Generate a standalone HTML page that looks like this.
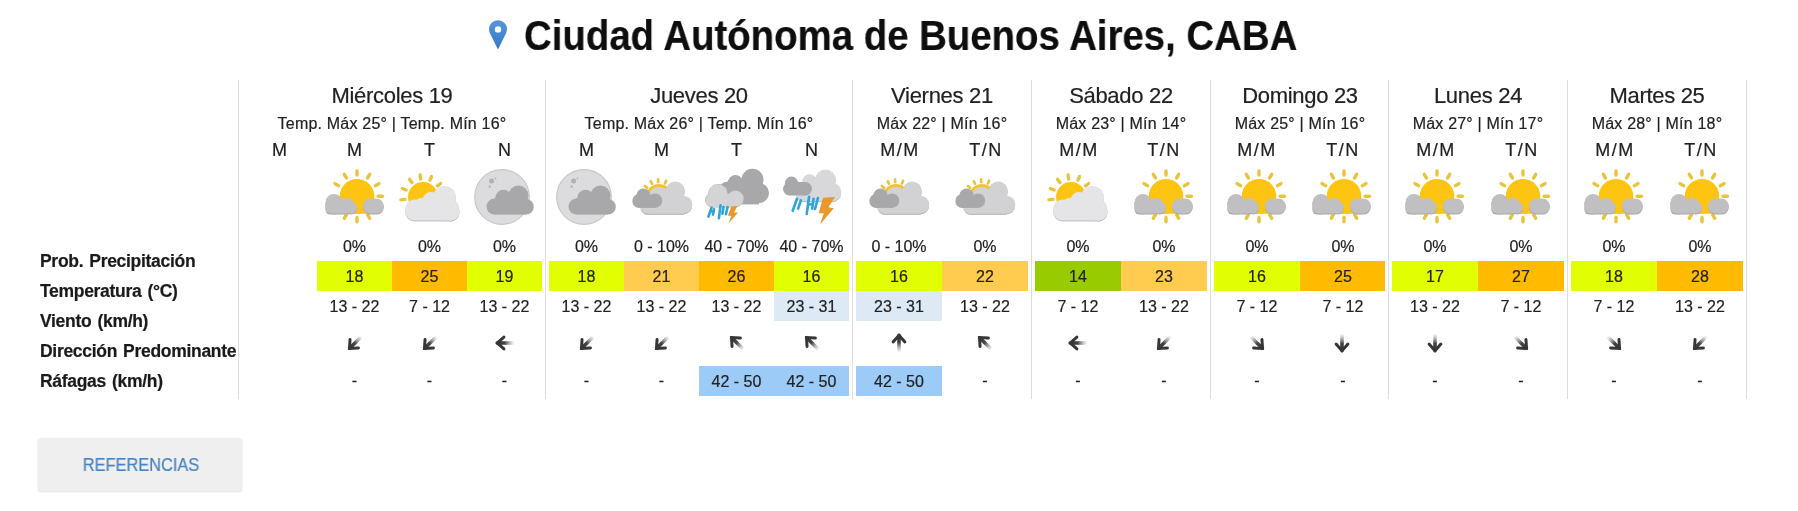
<!DOCTYPE html>
<html><head><meta charset="utf-8"><style>
html,body{margin:0;padding:0;background:#fff;}
body{width:1798px;height:511px;position:relative;overflow:hidden;font-family:"Liberation Sans", sans-serif;}
.t{position:absolute;white-space:nowrap;-webkit-font-smoothing:antialiased;will-change:transform;-webkit-text-stroke:0.2px currentColor;}
.r{position:absolute;}
</style></head><body>
<svg width="0" height="0" style="position:absolute"><defs>
<linearGradient id="ag" x1="0" y1="0" x2="0" y2="1" gradientUnits="objectBoundingBox">
<stop offset="0" stop-color="#333"/><stop offset="0.45" stop-color="#3a3a3a" stop-opacity="0.95"/><stop offset="1" stop-color="#888" stop-opacity="0"/>
</linearGradient>
<symbol id="arr" viewBox="0 0 24 24" overflow="visible">
<rect x="10.2" y="3.5" width="3.6" height="18" fill="url(#ag)"/>
<path d="M6.1 10.9 L12 4.2 L17.9 10.9" stroke="#363636" stroke-width="3" fill="none" stroke-linecap="round" stroke-linejoin="miter"/>
</symbol>
<symbol id="icA" viewBox="0 0 60 60" overflow="visible">
<g stroke="#e8c43e" stroke-width="3.4" stroke-linecap="round"><path d="M53.20 29.30L57.40 29.30"/><path d="M50.36 18.70L54.00 16.60"/><path d="M42.60 10.94L44.70 7.30"/><path d="M32.00 8.10L32.00 3.90"/><path d="M21.40 10.94L19.30 7.30"/><path d="M13.64 18.70L10.00 16.60"/><path d="M21.40 47.66L19.30 51.30"/><path d="M32.00 50.50L32.00 54.70"/><path d="M42.60 47.66L44.70 51.30"/></g>
<circle cx="32" cy="29.3" r="17.3" fill="#fdc512"/>
<rect x="28" y="30" width="13" height="16.8" fill="#fdc512"/>
<g fill="#a7a7a9" transform="translate(0 1.1)"><rect x="0.5" y="27" width="17" height="19.5" rx="8.5"/><rect x="0.5" y="35" width="26" height="11.5" rx="5"/><circle cx="22" cy="38.5" r="7.5"/><circle cx="26" cy="40.5" r="6"/><rect x="38" y="31.5" width="20.8" height="15" rx="7.5"/></g>
<g fill="#c0c0c2"><rect x="0.5" y="27" width="17" height="19.5" rx="8.5"/><rect x="0.5" y="35" width="26" height="11.5" rx="5"/><circle cx="22" cy="38.5" r="7.5"/><circle cx="26" cy="40.5" r="6"/><rect x="38" y="31.5" width="20.8" height="15" rx="7.5"/></g>
</symbol>
<symbol id="icB" viewBox="0 0 60 60" overflow="visible">
<g stroke="#e8c43e" stroke-width="3.4" stroke-linecap="round"><path d="M37.44 18.92L40.61 16.49"/><path d="M29.96 13.19L31.50 9.49"/><path d="M20.62 11.96L20.10 7.99"/><path d="M11.92 15.56L9.49 12.39"/><path d="M6.19 23.04L2.49 21.50"/><path d="M4.96 32.38L0.99 32.90"/></g>
<circle cx="23" cy="30" r="15" fill="#fdc512"/>
<g fill="#c6c6c8" transform="translate(0 1.2)"><rect x="5.3" y="32.5" width="54" height="20.8" rx="9"/><circle cx="44.5" cy="30.5" r="11.5"/><circle cx="50.5" cy="44.5" r="9"/><circle cx="31" cy="33.5" r="8.5"/><circle cx="21.5" cy="37" r="6"/></g>
<g fill="#e5e5e7"><rect x="5.3" y="32.5" width="54" height="20.8" rx="9"/><circle cx="44.5" cy="30.5" r="11.5"/><circle cx="50.5" cy="44.5" r="9"/><circle cx="31" cy="33.5" r="8.5"/><circle cx="21.5" cy="37" r="6"/></g>
</symbol>
<symbol id="icC" viewBox="0 0 60 60" overflow="visible">
<circle cx="27" cy="30" r="27.3" fill="#dcdcde" stroke="#c8c8ca" stroke-width="1.2"/>
<circle cx="16.6" cy="14" r="2.5" fill="#b0b0b2"/><circle cx="14.7" cy="19.6" r="1.2" fill="#b0b0b2"/><circle cx="20.5" cy="11.4" r="0.9" fill="#b0b0b2"/>
<g fill="#a8a8aa"><circle cx="43.4" cy="28.5" r="10"/><circle cx="28.5" cy="31" r="8.2"/><circle cx="19.5" cy="39.6" r="8"/><circle cx="51" cy="39.8" r="7.8"/><rect x="19.5" y="31" width="31.5" height="16.6"/></g>
</symbol>
<symbol id="icD" viewBox="0 0 60 60" overflow="visible">
<g stroke="#e8c43e" stroke-width="2.7" stroke-linecap="round"><path d="M15.11 20.87L12.86 19.05"/><path d="M20.05 16.87L18.74 14.28"/><path d="M26.20 15.22L26.05 12.32"/><path d="M32.98 16.42L34.11 13.75"/></g>
<circle cx="27" cy="30.5" r="13.6" fill="#f2c530"/>
<g fill="#b9b9bb" transform="translate(0 1.2)"><circle cx="43.2" cy="24" r="9.6"/><circle cx="51.5" cy="37.5" r="8.7"/><circle cx="27" cy="31" r="11"/><circle cx="16" cy="39" r="7.7"/><rect x="16" y="30" width="35.5" height="16.7"/></g>
<g fill="#d2d2d4"><circle cx="43.2" cy="24" r="9.6"/><circle cx="51.5" cy="37.5" r="8.7"/><circle cx="27" cy="31" r="11"/><circle cx="16" cy="39" r="7.7"/><rect x="16" y="30" width="35.5" height="16.7"/></g>
<g fill="#a8a8aa"><circle cx="11.5" cy="28.5" r="7"/><circle cx="23" cy="33.7" r="7.2"/><circle cx="7.2" cy="34" r="6.9"/><rect x="7.2" y="28.5" width="15.8" height="12.4"/></g>
</symbol>
<symbol id="icE" viewBox="0 0 60 60" overflow="visible">
<g fill="#a8a8aa"><circle cx="45.5" cy="12.8" r="11"/><circle cx="28.5" cy="15.5" r="7.5"/><circle cx="52" cy="26" r="10"/><circle cx="21" cy="24.5" r="10"/><rect x="21" y="13" width="31" height="24.4"/></g>
<g fill="#d4d4d6" stroke="#b5b5b7" stroke-width="1"><circle cx="11" cy="27" r="9.5"/><circle cx="28.5" cy="31.7" r="8"/><circle cx="5.5" cy="33" r="7"/><rect x="5.5" y="27" width="23" height="13"/></g>
<g fill="#d4d4d6"><circle cx="11" cy="27" r="9.5"/><circle cx="28.5" cy="31.7" r="8"/><circle cx="5.5" cy="33" r="7"/><rect x="5.5" y="27" width="23" height="13"/></g>
<g stroke="#2ea4d8" stroke-width="2.6" stroke-linecap="round"><path d="M1.4 49.6L4.6 40.6"/><path d="M6 47.6L7 42.4"/><path d="M11.9 51.3L13.5 38.3"/><path d="M15.4 46.7L16.5 40"/><path d="M18.9 47.2L20.6 40"/><path d="M4.2 44.6L6.2 44.2"/></g>
<polygon points="24.3,39.5 30.5,38.8 27,45.6 31.1,45.6 21.5,56.6 24.3,49 20.9,48.4" fill="#e9982b"/>
</symbol>
<symbol id="icF" viewBox="0 0 60 60" overflow="visible">
<g fill="#bdbdbf" transform="translate(0 1)"><circle cx="43.5" cy="12.8" r="10.3"/><circle cx="27.5" cy="14.5" r="7.2"/><circle cx="50" cy="25" r="9.2"/><circle cx="22" cy="26" r="8"/><rect x="22" y="13" width="28" height="21.2"/></g>
<g fill="#d8d8da"><circle cx="43.5" cy="12.8" r="10.3"/><circle cx="27.5" cy="14.5" r="7.2"/><circle cx="50" cy="25" r="9.2"/><circle cx="22" cy="26" r="8"/><rect x="22" y="13" width="28" height="21.2"/></g>
<g fill="#a8a8aa"><circle cx="9.5" cy="16" r="6.5"/><circle cx="23.3" cy="21.8" r="6.7"/><circle cx="7.5" cy="22" r="6.5"/><rect x="7.5" y="15" width="16" height="13.5"/></g>
<g stroke="#2ea4d8" stroke-width="2.6" stroke-linecap="round"><path d="M10.7 43.8L15 31.8"/><path d="M16.1 41.6L18.9 33.4"/><path d="M24.7 47L27.1 29.7"/><path d="M30.2 41.6L31.6 31.8"/><path d="M33 42L35.9 31"/><path d="M27.5 37.5L30.6 37"/></g>
<polygon points="41.1,30.8 53,30 46.4,40.2 51.8,41.2 38,57.6 41.8,46.3 36.6,46.3" fill="#e9982b"/>
</symbol>
</defs></svg>
<svg class="pin" style="position:absolute;left:487px;top:19px" width="22" height="32" viewBox="0 0 22 32"><defs><linearGradient id="pg" x1="0" y1="0" x2="0" y2="1"><stop offset="0" stop-color="#5597dc"/><stop offset="1" stop-color="#3479c4"/></linearGradient></defs><path d="M11 30.4L2.96 14.35A9 9 0 1 1 19.04 14.35Z" fill="url(#pg)"/><circle cx="11" cy="10.4" r="3.2" fill="#fff"/></svg>
<div class="t" style="left:524.00px;top:7.55px;width:900px;font-size:42.5px;line-height:55.25px;font-weight:700;color:#0e0e0e;text-align:left;letter-spacing:0px;transform:scaleX(0.903);transform-origin:0 0">Ciudad Autónoma de Buenos Aires, CABA</div>
<div class="t" style="left:40.00px;top:249.56px;width:240px;font-size:17.5px;line-height:22.75px;font-weight:700;color:#1a1a1a;text-align:left;letter-spacing:-0.3px;word-spacing:1.5px">Prob. Precipitación</div>
<div class="t" style="left:40.00px;top:279.56px;width:240px;font-size:17.5px;line-height:22.75px;font-weight:700;color:#1a1a1a;text-align:left;letter-spacing:-0.3px;word-spacing:1.5px">Temperatura (°C)</div>
<div class="t" style="left:40.00px;top:309.56px;width:240px;font-size:17.5px;line-height:22.75px;font-weight:700;color:#1a1a1a;text-align:left;letter-spacing:-0.3px;word-spacing:1.5px">Viento (km/h)</div>
<div class="t" style="left:40.00px;top:339.56px;width:240px;font-size:17.5px;line-height:22.75px;font-weight:700;color:#1a1a1a;text-align:left;letter-spacing:-0.3px;word-spacing:1.5px">Dirección Predominante</div>
<div class="t" style="left:40.00px;top:369.56px;width:240px;font-size:17.5px;line-height:22.75px;font-weight:700;color:#1a1a1a;text-align:left;letter-spacing:-0.3px;word-spacing:1.5px">Ráfagas (km/h)</div>
<div class="r" style="left:238.00px;top:80.00px;width:1.00px;height:319.00px;background:#dedede;"></div>
<div class="r" style="left:545.00px;top:80.00px;width:1.00px;height:319.00px;background:#dedede;"></div>
<div class="r" style="left:852.00px;top:80.00px;width:1.00px;height:319.00px;background:#dedede;"></div>
<div class="r" style="left:1030.80px;top:80.00px;width:1.00px;height:319.00px;background:#dedede;"></div>
<div class="r" style="left:1209.60px;top:80.00px;width:1.00px;height:319.00px;background:#dedede;"></div>
<div class="r" style="left:1388.40px;top:80.00px;width:1.00px;height:319.00px;background:#dedede;"></div>
<div class="r" style="left:1567.20px;top:80.00px;width:1.00px;height:319.00px;background:#dedede;"></div>
<div class="r" style="left:1746.00px;top:80.00px;width:1.00px;height:319.00px;background:#dedede;"></div>
<div class="t" style="left:242.00px;top:82.08px;width:300px;font-size:22px;line-height:28.6px;font-weight:400;color:#212121;text-align:center;letter-spacing:-0.3px;">Miércoles 19</div>
<div class="t" style="left:242.00px;top:114.06px;width:300px;font-size:16px;line-height:20.8px;font-weight:400;color:#212121;text-align:center;letter-spacing:0.2px;">Temp. Máx 25° | Temp. Mín 16°</div>
<div class="t" style="left:232.00px;top:139.06px;width:95.0px;font-size:18px;line-height:23.4px;font-weight:400;color:#212121;text-align:center;letter-spacing:0px;">M</div>
<div class="t" style="left:307.00px;top:139.06px;width:95.0px;font-size:18px;line-height:23.4px;font-weight:400;color:#212121;text-align:center;letter-spacing:0px;">M</div>
<svg style="position:absolute;left:324.50px;top:167px;overflow:visible" width="60" height="60"><use href="#icA"/></svg>
<div class="t" style="left:307.00px;top:237.06px;width:95.0px;font-size:16px;line-height:20.8px;font-weight:400;color:#212121;text-align:center;letter-spacing:0px;">0%</div>
<div class="r" style="left:317.00px;top:261.00px;width:75.00px;height:30.00px;background:#e1ff00;"></div>
<div class="t" style="left:317.00px;top:267.06px;width:75.0px;font-size:16px;line-height:20.8px;font-weight:400;color:#212121;text-align:center;letter-spacing:0px;">18</div>
<div class="t" style="left:317.00px;top:297.06px;width:75.0px;font-size:16px;line-height:20.8px;font-weight:400;color:#212121;text-align:center;letter-spacing:0px;">13 - 22</div>
<svg style="position:absolute;left:342.50px;top:330.5px" width="24" height="24"><use href="#arr" transform="rotate(-135 12 12)"/></svg>
<div class="t" style="left:317.00px;top:371.06px;width:75.0px;font-size:16px;line-height:20.8px;font-weight:400;color:#212121;text-align:center;letter-spacing:0px;">-</div>
<div class="t" style="left:382.00px;top:139.06px;width:95.0px;font-size:18px;line-height:23.4px;font-weight:400;color:#212121;text-align:center;letter-spacing:0px;">T</div>
<svg style="position:absolute;left:399.50px;top:167px;overflow:visible" width="60" height="60"><use href="#icB"/></svg>
<div class="t" style="left:382.00px;top:237.06px;width:95.0px;font-size:16px;line-height:20.8px;font-weight:400;color:#212121;text-align:center;letter-spacing:0px;">0%</div>
<div class="r" style="left:392.00px;top:261.00px;width:75.00px;height:30.00px;background:#ffbb00;"></div>
<div class="t" style="left:392.00px;top:267.06px;width:75.0px;font-size:16px;line-height:20.8px;font-weight:400;color:#212121;text-align:center;letter-spacing:0px;">25</div>
<div class="t" style="left:392.00px;top:297.06px;width:75.0px;font-size:16px;line-height:20.8px;font-weight:400;color:#212121;text-align:center;letter-spacing:0px;">7 - 12</div>
<svg style="position:absolute;left:417.50px;top:330.5px" width="24" height="24"><use href="#arr" transform="rotate(-135 12 12)"/></svg>
<div class="t" style="left:392.00px;top:371.06px;width:75.0px;font-size:16px;line-height:20.8px;font-weight:400;color:#212121;text-align:center;letter-spacing:0px;">-</div>
<div class="t" style="left:457.00px;top:139.06px;width:95.0px;font-size:18px;line-height:23.4px;font-weight:400;color:#212121;text-align:center;letter-spacing:0px;">N</div>
<svg style="position:absolute;left:474.50px;top:167px;overflow:visible" width="60" height="60"><use href="#icC"/></svg>
<div class="t" style="left:457.00px;top:237.06px;width:95.0px;font-size:16px;line-height:20.8px;font-weight:400;color:#212121;text-align:center;letter-spacing:0px;">0%</div>
<div class="r" style="left:467.00px;top:261.00px;width:75.00px;height:30.00px;background:#e1ff00;"></div>
<div class="t" style="left:467.00px;top:267.06px;width:75.0px;font-size:16px;line-height:20.8px;font-weight:400;color:#212121;text-align:center;letter-spacing:0px;">19</div>
<div class="t" style="left:467.00px;top:297.06px;width:75.0px;font-size:16px;line-height:20.8px;font-weight:400;color:#212121;text-align:center;letter-spacing:0px;">13 - 22</div>
<svg style="position:absolute;left:492.50px;top:330.5px" width="24" height="24"><use href="#arr" transform="rotate(-90 12 12)"/></svg>
<div class="t" style="left:467.00px;top:371.06px;width:75.0px;font-size:16px;line-height:20.8px;font-weight:400;color:#212121;text-align:center;letter-spacing:0px;">-</div>
<div class="t" style="left:549.00px;top:82.08px;width:300px;font-size:22px;line-height:28.6px;font-weight:400;color:#212121;text-align:center;letter-spacing:-0.3px;">Jueves 20</div>
<div class="t" style="left:549.00px;top:114.06px;width:300px;font-size:16px;line-height:20.8px;font-weight:400;color:#212121;text-align:center;letter-spacing:0.2px;">Temp. Máx 26° | Temp. Mín 16°</div>
<div class="t" style="left:539.00px;top:139.06px;width:95.0px;font-size:18px;line-height:23.4px;font-weight:400;color:#212121;text-align:center;letter-spacing:0px;">M</div>
<svg style="position:absolute;left:556.50px;top:167px;overflow:visible" width="60" height="60"><use href="#icC"/></svg>
<div class="t" style="left:539.00px;top:237.06px;width:95.0px;font-size:16px;line-height:20.8px;font-weight:400;color:#212121;text-align:center;letter-spacing:0px;">0%</div>
<div class="r" style="left:549.00px;top:261.00px;width:75.00px;height:30.00px;background:#e1ff00;"></div>
<div class="t" style="left:549.00px;top:267.06px;width:75.0px;font-size:16px;line-height:20.8px;font-weight:400;color:#212121;text-align:center;letter-spacing:0px;">18</div>
<div class="t" style="left:549.00px;top:297.06px;width:75.0px;font-size:16px;line-height:20.8px;font-weight:400;color:#212121;text-align:center;letter-spacing:0px;">13 - 22</div>
<svg style="position:absolute;left:574.50px;top:330.5px" width="24" height="24"><use href="#arr" transform="rotate(-135 12 12)"/></svg>
<div class="t" style="left:549.00px;top:371.06px;width:75.0px;font-size:16px;line-height:20.8px;font-weight:400;color:#212121;text-align:center;letter-spacing:0px;">-</div>
<div class="t" style="left:614.00px;top:139.06px;width:95.0px;font-size:18px;line-height:23.4px;font-weight:400;color:#212121;text-align:center;letter-spacing:0px;">M</div>
<svg style="position:absolute;left:631.50px;top:167px;overflow:visible" width="60" height="60"><use href="#icD"/></svg>
<div class="t" style="left:614.00px;top:237.06px;width:95.0px;font-size:16px;line-height:20.8px;font-weight:400;color:#212121;text-align:center;letter-spacing:0px;">0 - 10%</div>
<div class="r" style="left:624.00px;top:261.00px;width:75.00px;height:30.00px;background:#ffcc4f;"></div>
<div class="t" style="left:624.00px;top:267.06px;width:75.0px;font-size:16px;line-height:20.8px;font-weight:400;color:#212121;text-align:center;letter-spacing:0px;">21</div>
<div class="t" style="left:624.00px;top:297.06px;width:75.0px;font-size:16px;line-height:20.8px;font-weight:400;color:#212121;text-align:center;letter-spacing:0px;">13 - 22</div>
<svg style="position:absolute;left:649.50px;top:330.5px" width="24" height="24"><use href="#arr" transform="rotate(-135 12 12)"/></svg>
<div class="t" style="left:624.00px;top:371.06px;width:75.0px;font-size:16px;line-height:20.8px;font-weight:400;color:#212121;text-align:center;letter-spacing:0px;">-</div>
<div class="t" style="left:689.00px;top:139.06px;width:95.0px;font-size:18px;line-height:23.4px;font-weight:400;color:#212121;text-align:center;letter-spacing:0px;">T</div>
<svg style="position:absolute;left:706.50px;top:167px;overflow:visible" width="60" height="60"><use href="#icE"/></svg>
<div class="t" style="left:689.00px;top:237.06px;width:95.0px;font-size:16px;line-height:20.8px;font-weight:400;color:#212121;text-align:center;letter-spacing:0px;">40 - 70%</div>
<div class="r" style="left:699.00px;top:261.00px;width:75.00px;height:30.00px;background:#ffbb00;"></div>
<div class="t" style="left:699.00px;top:267.06px;width:75.0px;font-size:16px;line-height:20.8px;font-weight:400;color:#212121;text-align:center;letter-spacing:0px;">26</div>
<div class="t" style="left:699.00px;top:297.06px;width:75.0px;font-size:16px;line-height:20.8px;font-weight:400;color:#212121;text-align:center;letter-spacing:0px;">13 - 22</div>
<svg style="position:absolute;left:724.50px;top:330.5px" width="24" height="24"><use href="#arr" transform="rotate(-45 12 12)"/></svg>
<div class="r" style="left:699.00px;top:366.00px;width:75.00px;height:30.00px;background:#9dcbf8;"></div>
<div class="t" style="left:699.00px;top:372.06px;width:75.0px;font-size:16px;line-height:20.8px;font-weight:400;color:#212121;text-align:center;letter-spacing:0px;">42 - 50</div>
<div class="t" style="left:764.00px;top:139.06px;width:95.0px;font-size:18px;line-height:23.4px;font-weight:400;color:#212121;text-align:center;letter-spacing:0px;">N</div>
<svg style="position:absolute;left:781.50px;top:167px;overflow:visible" width="60" height="60"><use href="#icF"/></svg>
<div class="t" style="left:764.00px;top:237.06px;width:95.0px;font-size:16px;line-height:20.8px;font-weight:400;color:#212121;text-align:center;letter-spacing:0px;">40 - 70%</div>
<div class="r" style="left:774.00px;top:261.00px;width:75.00px;height:30.00px;background:#e1ff00;"></div>
<div class="t" style="left:774.00px;top:267.06px;width:75.0px;font-size:16px;line-height:20.8px;font-weight:400;color:#212121;text-align:center;letter-spacing:0px;">16</div>
<div class="r" style="left:774.00px;top:291.00px;width:75.00px;height:30.00px;background:#dde9f5;"></div>
<div class="t" style="left:774.00px;top:297.06px;width:75.0px;font-size:16px;line-height:20.8px;font-weight:400;color:#212121;text-align:center;letter-spacing:0px;">23 - 31</div>
<svg style="position:absolute;left:799.50px;top:330.5px" width="24" height="24"><use href="#arr" transform="rotate(-45 12 12)"/></svg>
<div class="r" style="left:774.00px;top:366.00px;width:75.00px;height:30.00px;background:#9dcbf8;"></div>
<div class="t" style="left:774.00px;top:372.06px;width:75.0px;font-size:16px;line-height:20.8px;font-weight:400;color:#212121;text-align:center;letter-spacing:0px;">42 - 50</div>
<div class="t" style="left:791.90px;top:82.08px;width:300px;font-size:22px;line-height:28.6px;font-weight:400;color:#212121;text-align:center;letter-spacing:-0.3px;">Viernes 21</div>
<div class="t" style="left:791.90px;top:114.06px;width:300px;font-size:16px;line-height:20.8px;font-weight:400;color:#212121;text-align:center;letter-spacing:0.2px;">Máx 22° | Mín 16°</div>
<div class="t" style="left:846.75px;top:139.06px;width:105.89999999999998px;font-size:18px;line-height:23.4px;font-weight:400;color:#212121;text-align:center;letter-spacing:1.5px;">M/M</div>
<svg style="position:absolute;left:868.95px;top:167px;overflow:visible" width="60" height="60"><use href="#icD"/></svg>
<div class="t" style="left:846.00px;top:237.06px;width:105.89999999999998px;font-size:16px;line-height:20.8px;font-weight:400;color:#212121;text-align:center;letter-spacing:0px;">0 - 10%</div>
<div class="r" style="left:856.00px;top:261.00px;width:86.00px;height:30.00px;background:#e1ff00;"></div>
<div class="t" style="left:856.00px;top:267.06px;width:85.89999999999998px;font-size:16px;line-height:20.8px;font-weight:400;color:#212121;text-align:center;letter-spacing:0px;">16</div>
<div class="r" style="left:856.00px;top:291.00px;width:86.00px;height:30.00px;background:#dde9f5;"></div>
<div class="t" style="left:856.00px;top:297.06px;width:85.89999999999998px;font-size:16px;line-height:20.8px;font-weight:400;color:#212121;text-align:center;letter-spacing:0px;">23 - 31</div>
<svg style="position:absolute;left:886.95px;top:330.5px" width="24" height="24"><use href="#arr" transform="rotate(0 12 12)"/></svg>
<div class="r" style="left:856.00px;top:366.00px;width:86.00px;height:30.00px;background:#9dcbf8;"></div>
<div class="t" style="left:856.00px;top:372.06px;width:85.89999999999998px;font-size:16px;line-height:20.8px;font-weight:400;color:#212121;text-align:center;letter-spacing:0px;">42 - 50</div>
<div class="t" style="left:932.65px;top:139.06px;width:105.89999999999998px;font-size:18px;line-height:23.4px;font-weight:400;color:#212121;text-align:center;letter-spacing:1.5px;">T/N</div>
<svg style="position:absolute;left:954.85px;top:167px;overflow:visible" width="60" height="60"><use href="#icD"/></svg>
<div class="t" style="left:931.90px;top:237.06px;width:105.89999999999998px;font-size:16px;line-height:20.8px;font-weight:400;color:#212121;text-align:center;letter-spacing:0px;">0%</div>
<div class="r" style="left:942.00px;top:261.00px;width:86.00px;height:30.00px;background:#ffcc4f;"></div>
<div class="t" style="left:941.90px;top:267.06px;width:85.89999999999998px;font-size:16px;line-height:20.8px;font-weight:400;color:#212121;text-align:center;letter-spacing:0px;">22</div>
<div class="t" style="left:941.90px;top:297.06px;width:85.89999999999998px;font-size:16px;line-height:20.8px;font-weight:400;color:#212121;text-align:center;letter-spacing:0px;">13 - 22</div>
<svg style="position:absolute;left:972.85px;top:330.5px" width="24" height="24"><use href="#arr" transform="rotate(-45 12 12)"/></svg>
<div class="t" style="left:941.90px;top:371.06px;width:85.89999999999998px;font-size:16px;line-height:20.8px;font-weight:400;color:#212121;text-align:center;letter-spacing:0px;">-</div>
<div class="t" style="left:970.70px;top:82.08px;width:300px;font-size:22px;line-height:28.6px;font-weight:400;color:#212121;text-align:center;letter-spacing:-0.3px;">Sábado 22</div>
<div class="t" style="left:970.70px;top:114.06px;width:300px;font-size:16px;line-height:20.8px;font-weight:400;color:#212121;text-align:center;letter-spacing:0.2px;">Máx 23° | Mín 14°</div>
<div class="t" style="left:1025.55px;top:139.06px;width:105.89999999999998px;font-size:18px;line-height:23.4px;font-weight:400;color:#212121;text-align:center;letter-spacing:1.5px;">M/M</div>
<svg style="position:absolute;left:1047.75px;top:167px;overflow:visible" width="60" height="60"><use href="#icB"/></svg>
<div class="t" style="left:1024.80px;top:237.06px;width:105.89999999999998px;font-size:16px;line-height:20.8px;font-weight:400;color:#212121;text-align:center;letter-spacing:0px;">0%</div>
<div class="r" style="left:1035.00px;top:261.00px;width:86.00px;height:30.00px;background:#99cc00;"></div>
<div class="t" style="left:1034.80px;top:267.06px;width:85.89999999999998px;font-size:16px;line-height:20.8px;font-weight:400;color:#212121;text-align:center;letter-spacing:0px;">14</div>
<div class="t" style="left:1034.80px;top:297.06px;width:85.89999999999998px;font-size:16px;line-height:20.8px;font-weight:400;color:#212121;text-align:center;letter-spacing:0px;">7 - 12</div>
<svg style="position:absolute;left:1065.75px;top:330.5px" width="24" height="24"><use href="#arr" transform="rotate(-90 12 12)"/></svg>
<div class="t" style="left:1034.80px;top:371.06px;width:85.89999999999998px;font-size:16px;line-height:20.8px;font-weight:400;color:#212121;text-align:center;letter-spacing:0px;">-</div>
<div class="t" style="left:1111.45px;top:139.06px;width:105.89999999999998px;font-size:18px;line-height:23.4px;font-weight:400;color:#212121;text-align:center;letter-spacing:1.5px;">T/N</div>
<svg style="position:absolute;left:1133.65px;top:167px;overflow:visible" width="60" height="60"><use href="#icA"/></svg>
<div class="t" style="left:1110.70px;top:237.06px;width:105.89999999999998px;font-size:16px;line-height:20.8px;font-weight:400;color:#212121;text-align:center;letter-spacing:0px;">0%</div>
<div class="r" style="left:1121.00px;top:261.00px;width:86.00px;height:30.00px;background:#ffcc4f;"></div>
<div class="t" style="left:1120.70px;top:267.06px;width:85.89999999999998px;font-size:16px;line-height:20.8px;font-weight:400;color:#212121;text-align:center;letter-spacing:0px;">23</div>
<div class="t" style="left:1120.70px;top:297.06px;width:85.89999999999998px;font-size:16px;line-height:20.8px;font-weight:400;color:#212121;text-align:center;letter-spacing:0px;">13 - 22</div>
<svg style="position:absolute;left:1151.65px;top:330.5px" width="24" height="24"><use href="#arr" transform="rotate(-135 12 12)"/></svg>
<div class="t" style="left:1120.70px;top:371.06px;width:85.89999999999998px;font-size:16px;line-height:20.8px;font-weight:400;color:#212121;text-align:center;letter-spacing:0px;">-</div>
<div class="t" style="left:1149.50px;top:82.08px;width:300px;font-size:22px;line-height:28.6px;font-weight:400;color:#212121;text-align:center;letter-spacing:-0.3px;">Domingo 23</div>
<div class="t" style="left:1149.50px;top:114.06px;width:300px;font-size:16px;line-height:20.8px;font-weight:400;color:#212121;text-align:center;letter-spacing:0.2px;">Máx 25° | Mín 16°</div>
<div class="t" style="left:1204.35px;top:139.06px;width:105.90000000000009px;font-size:18px;line-height:23.4px;font-weight:400;color:#212121;text-align:center;letter-spacing:1.5px;">M/M</div>
<svg style="position:absolute;left:1226.55px;top:167px;overflow:visible" width="60" height="60"><use href="#icA"/></svg>
<div class="t" style="left:1203.60px;top:237.06px;width:105.90000000000009px;font-size:16px;line-height:20.8px;font-weight:400;color:#212121;text-align:center;letter-spacing:0px;">0%</div>
<div class="r" style="left:1214.00px;top:261.00px;width:86.00px;height:30.00px;background:#e1ff00;"></div>
<div class="t" style="left:1213.60px;top:267.06px;width:85.90000000000009px;font-size:16px;line-height:20.8px;font-weight:400;color:#212121;text-align:center;letter-spacing:0px;">16</div>
<div class="t" style="left:1213.60px;top:297.06px;width:85.90000000000009px;font-size:16px;line-height:20.8px;font-weight:400;color:#212121;text-align:center;letter-spacing:0px;">7 - 12</div>
<svg style="position:absolute;left:1244.55px;top:330.5px" width="24" height="24"><use href="#arr" transform="rotate(135 12 12)"/></svg>
<div class="t" style="left:1213.60px;top:371.06px;width:85.90000000000009px;font-size:16px;line-height:20.8px;font-weight:400;color:#212121;text-align:center;letter-spacing:0px;">-</div>
<div class="t" style="left:1290.25px;top:139.06px;width:105.90000000000009px;font-size:18px;line-height:23.4px;font-weight:400;color:#212121;text-align:center;letter-spacing:1.5px;">T/N</div>
<svg style="position:absolute;left:1312.45px;top:167px;overflow:visible" width="60" height="60"><use href="#icA"/></svg>
<div class="t" style="left:1289.50px;top:237.06px;width:105.90000000000009px;font-size:16px;line-height:20.8px;font-weight:400;color:#212121;text-align:center;letter-spacing:0px;">0%</div>
<div class="r" style="left:1300.00px;top:261.00px;width:85.00px;height:30.00px;background:#ffbb00;"></div>
<div class="t" style="left:1299.50px;top:267.06px;width:85.90000000000009px;font-size:16px;line-height:20.8px;font-weight:400;color:#212121;text-align:center;letter-spacing:0px;">25</div>
<div class="t" style="left:1299.50px;top:297.06px;width:85.90000000000009px;font-size:16px;line-height:20.8px;font-weight:400;color:#212121;text-align:center;letter-spacing:0px;">7 - 12</div>
<svg style="position:absolute;left:1330.45px;top:330.5px" width="24" height="24"><use href="#arr" transform="rotate(180 12 12)"/></svg>
<div class="t" style="left:1299.50px;top:371.06px;width:85.90000000000009px;font-size:16px;line-height:20.8px;font-weight:400;color:#212121;text-align:center;letter-spacing:0px;">-</div>
<div class="t" style="left:1328.30px;top:82.08px;width:300px;font-size:22px;line-height:28.6px;font-weight:400;color:#212121;text-align:center;letter-spacing:-0.3px;">Lunes 24</div>
<div class="t" style="left:1328.30px;top:114.06px;width:300px;font-size:16px;line-height:20.8px;font-weight:400;color:#212121;text-align:center;letter-spacing:0.2px;">Máx 27° | Mín 17°</div>
<div class="t" style="left:1383.15px;top:139.06px;width:105.89999999999998px;font-size:18px;line-height:23.4px;font-weight:400;color:#212121;text-align:center;letter-spacing:1.5px;">M/M</div>
<svg style="position:absolute;left:1405.35px;top:167px;overflow:visible" width="60" height="60"><use href="#icA"/></svg>
<div class="t" style="left:1382.40px;top:237.06px;width:105.89999999999998px;font-size:16px;line-height:20.8px;font-weight:400;color:#212121;text-align:center;letter-spacing:0px;">0%</div>
<div class="r" style="left:1392.00px;top:261.00px;width:86.00px;height:30.00px;background:#e1ff00;"></div>
<div class="t" style="left:1392.40px;top:267.06px;width:85.89999999999998px;font-size:16px;line-height:20.8px;font-weight:400;color:#212121;text-align:center;letter-spacing:0px;">17</div>
<div class="t" style="left:1392.40px;top:297.06px;width:85.89999999999998px;font-size:16px;line-height:20.8px;font-weight:400;color:#212121;text-align:center;letter-spacing:0px;">13 - 22</div>
<svg style="position:absolute;left:1423.35px;top:330.5px" width="24" height="24"><use href="#arr" transform="rotate(180 12 12)"/></svg>
<div class="t" style="left:1392.40px;top:371.06px;width:85.89999999999998px;font-size:16px;line-height:20.8px;font-weight:400;color:#212121;text-align:center;letter-spacing:0px;">-</div>
<div class="t" style="left:1469.05px;top:139.06px;width:105.89999999999998px;font-size:18px;line-height:23.4px;font-weight:400;color:#212121;text-align:center;letter-spacing:1.5px;">T/N</div>
<svg style="position:absolute;left:1491.25px;top:167px;overflow:visible" width="60" height="60"><use href="#icA"/></svg>
<div class="t" style="left:1468.30px;top:237.06px;width:105.89999999999998px;font-size:16px;line-height:20.8px;font-weight:400;color:#212121;text-align:center;letter-spacing:0px;">0%</div>
<div class="r" style="left:1478.00px;top:261.00px;width:86.00px;height:30.00px;background:#ffbb00;"></div>
<div class="t" style="left:1478.30px;top:267.06px;width:85.89999999999998px;font-size:16px;line-height:20.8px;font-weight:400;color:#212121;text-align:center;letter-spacing:0px;">27</div>
<div class="t" style="left:1478.30px;top:297.06px;width:85.89999999999998px;font-size:16px;line-height:20.8px;font-weight:400;color:#212121;text-align:center;letter-spacing:0px;">7 - 12</div>
<svg style="position:absolute;left:1509.25px;top:330.5px" width="24" height="24"><use href="#arr" transform="rotate(135 12 12)"/></svg>
<div class="t" style="left:1478.30px;top:371.06px;width:85.89999999999998px;font-size:16px;line-height:20.8px;font-weight:400;color:#212121;text-align:center;letter-spacing:0px;">-</div>
<div class="t" style="left:1507.10px;top:82.08px;width:300px;font-size:22px;line-height:28.6px;font-weight:400;color:#212121;text-align:center;letter-spacing:-0.3px;">Martes 25</div>
<div class="t" style="left:1507.10px;top:114.06px;width:300px;font-size:16px;line-height:20.8px;font-weight:400;color:#212121;text-align:center;letter-spacing:0.2px;">Máx 28° | Mín 18°</div>
<div class="t" style="left:1561.95px;top:139.06px;width:105.89999999999998px;font-size:18px;line-height:23.4px;font-weight:400;color:#212121;text-align:center;letter-spacing:1.5px;">M/M</div>
<svg style="position:absolute;left:1584.15px;top:167px;overflow:visible" width="60" height="60"><use href="#icA"/></svg>
<div class="t" style="left:1561.20px;top:237.06px;width:105.89999999999998px;font-size:16px;line-height:20.8px;font-weight:400;color:#212121;text-align:center;letter-spacing:0px;">0%</div>
<div class="r" style="left:1571.00px;top:261.00px;width:86.00px;height:30.00px;background:#e1ff00;"></div>
<div class="t" style="left:1571.20px;top:267.06px;width:85.89999999999998px;font-size:16px;line-height:20.8px;font-weight:400;color:#212121;text-align:center;letter-spacing:0px;">18</div>
<div class="t" style="left:1571.20px;top:297.06px;width:85.89999999999998px;font-size:16px;line-height:20.8px;font-weight:400;color:#212121;text-align:center;letter-spacing:0px;">7 - 12</div>
<svg style="position:absolute;left:1602.15px;top:330.5px" width="24" height="24"><use href="#arr" transform="rotate(135 12 12)"/></svg>
<div class="t" style="left:1571.20px;top:371.06px;width:85.89999999999998px;font-size:16px;line-height:20.8px;font-weight:400;color:#212121;text-align:center;letter-spacing:0px;">-</div>
<div class="t" style="left:1647.85px;top:139.06px;width:105.89999999999998px;font-size:18px;line-height:23.4px;font-weight:400;color:#212121;text-align:center;letter-spacing:1.5px;">T/N</div>
<svg style="position:absolute;left:1670.05px;top:167px;overflow:visible" width="60" height="60"><use href="#icA"/></svg>
<div class="t" style="left:1647.10px;top:237.06px;width:105.89999999999998px;font-size:16px;line-height:20.8px;font-weight:400;color:#212121;text-align:center;letter-spacing:0px;">0%</div>
<div class="r" style="left:1657.00px;top:261.00px;width:86.00px;height:30.00px;background:#ffbb00;"></div>
<div class="t" style="left:1657.10px;top:267.06px;width:85.89999999999998px;font-size:16px;line-height:20.8px;font-weight:400;color:#212121;text-align:center;letter-spacing:0px;">28</div>
<div class="t" style="left:1657.10px;top:297.06px;width:85.89999999999998px;font-size:16px;line-height:20.8px;font-weight:400;color:#212121;text-align:center;letter-spacing:0px;">13 - 22</div>
<svg style="position:absolute;left:1688.05px;top:330.5px" width="24" height="24"><use href="#arr" transform="rotate(-135 12 12)"/></svg>
<div class="t" style="left:1657.10px;top:371.06px;width:85.89999999999998px;font-size:16px;line-height:20.8px;font-weight:400;color:#212121;text-align:center;letter-spacing:0px;">-</div>
<div class="r" style="left:38.00px;top:438.00px;width:204.00px;height:53.00px;background:#efefef;border-radius:3px;box-shadow:0 1px 2px rgba(0,0,0,0.12)"></div>
<div class="t" style="left:38.50px;top:454.06px;width:204px;font-size:18px;line-height:23.4px;font-weight:400;color:#4583c2;text-align:center;letter-spacing:0px;transform:scaleX(0.91);-webkit-text-stroke:0.2px #4583c2">REFERENCIAS</div>
</body></html>
